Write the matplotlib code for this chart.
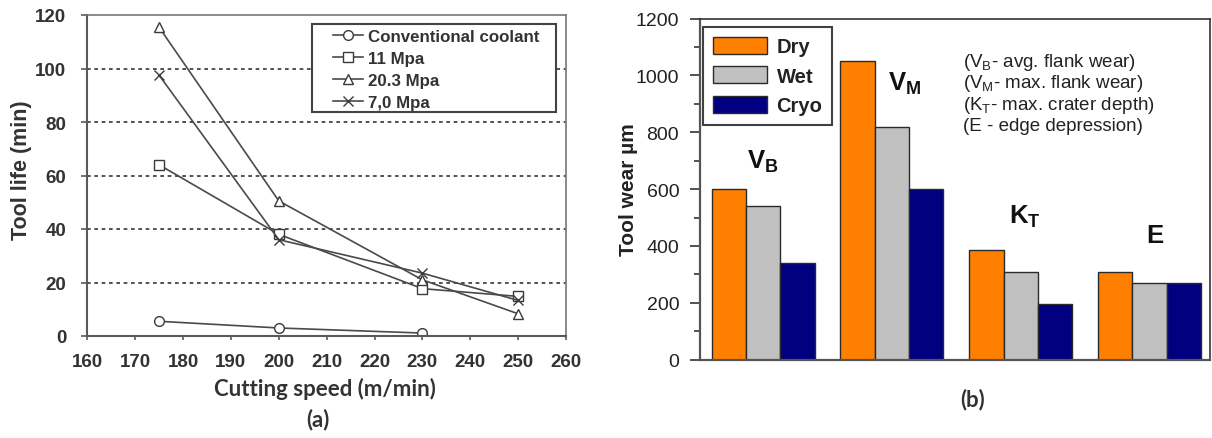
import matplotlib
matplotlib.use("Agg")
import matplotlib.pyplot as plt
from matplotlib.patches import Rectangle
import numpy as np

# ---------------- data ----------------
speeds = [175, 200, 230, 250]
conventional = [5.5, 3.0, 1.1]          # at 175, 200, 230
mpa_11 = [64, 38, 17.7, 14.8]
mpa_20_3 = [115.4, 50.5, 21, 8.3]
mpa_7_0 = [97.5, 36, 23.5, 13.3]

wear_groups = ["V_B", "V_M", "K_T", "E"]
dry = [600, 1050, 385, 310]
wet = [540, 820, 310, 270]
cryo = [340, 600, 195, 270]

# ---------------- style ----------------
plt.rcParams['font.family'] = ['Liberation Sans', 'DejaVu Sans']
plt.rcParams['mathtext.fontset'] = 'custom'
plt.rcParams['mathtext.rm'] = 'Liberation Sans'
plt.rcParams['mathtext.bf'] = 'Liberation Sans:bold'
plt.rcParams['mathtext.it'] = 'Liberation Sans:italic'

W, H = 1212, 439
fig = plt.figure(figsize=(W / 100, H / 100), dpi=100)

def fx(px):
    return px / W

def fy(py):
    return 1 - py / H

# ================= left chart =================
axL = fig.add_axes([fx(87.3), fy(337), fx(566) - fx(87.3), fy(16) - fy(337)])
line_c = '#4a4a4a'
mk = dict(markerfacecolor='white', markeredgecolor='#3a3a3a', markeredgewidth=1.0)
l1, = axL.plot(speeds[:3], conventional, color=line_c, lw=1.2, marker='o', markersize=7, label='Conventional coolant', **mk)
l2, = axL.plot(speeds, mpa_11, color=line_c, lw=1.2, marker='s', markersize=7.5, label='11 Mpa', **mk)
l3, = axL.plot(speeds, mpa_20_3, color=line_c, lw=1.2, marker='^', markersize=7, label='20.3 Mpa', **mk)
l4, = axL.plot(speeds, mpa_7_0, color=line_c, lw=1.2, marker='x', markersize=7.5, label='7,0 Mpa', **mk)

axL.set_xlim(160, 260)
axL.set_ylim(0, 120)
axL.set_xticks(np.arange(160, 261, 10))
axL.set_yticks(np.arange(0, 121, 20))
for y in range(20, 101, 20):
    axL.axhline(y, color='#333333', lw=1.2, ls=(0, (2.2, 2.2)), zorder=0)
for s in ['left', 'bottom']:
    axL.spines[s].set_color('#5a5a5a')
    axL.spines[s].set_linewidth(1.5)
for s in ['top', 'right']:
    axL.spines[s].set_color('#777777')
    axL.spines[s].set_linewidth(1.2)
axL.tick_params(axis='x', direction='out', length=3, width=1.2, color='#5a5a5a', pad=9,
                labelsize=13.5, labelcolor='#333333')
axL.tick_params(axis='y', direction='out', length=4, width=1.2, color='#5a5a5a', pad=11,
                labelsize=13.5, labelcolor='#333333')
for lab in axL.get_xticklabels() + axL.get_yticklabels():
    lab.set_fontweight('bold')

fig.text(fx(22), fy(170), 'Tool life (min)', rotation=90, ha='center', va='center',
         fontsize=15.5, fontweight='bold', color='#333333')
fig.text(fx(325), fy(389), 'Cutting speed (m/min)', ha='center', va='center',
         fontsize=16, fontweight='bold', color='#333333', family=['Lato', 'DejaVu Sans'])
fig.text(fx(318), fy(420), '(a)', ha='center', va='center',
         fontsize=16, fontweight='bold', color='#333333', family=['Lato', 'DejaVu Sans'])

box = Rectangle((fx(312), fy(113)), fx(556) - fx(312), fy(25) - fy(113),
                transform=fig.transFigure, facecolor='white',
                edgecolor='#444444', lw=1.5, zorder=4, clip_on=False)
axL.add_patch(box)
legL = axL.legend(handles=[l1, l2, l3, l4], loc='upper left',
                  bbox_to_anchor=(fx(330), fy(26.5)), bbox_transform=fig.transFigure,
                  frameon=False, borderpad=0.2, borderaxespad=0,
                  handlelength=1.75, handletextpad=0.3, labelspacing=0.42,
                  prop={'weight': 'bold', 'size': 12.2})
legL.set_zorder(5)
for t in legL.get_texts():
    t.set_color('#333333')

# ================= right chart =================
axR = fig.add_axes([fx(700), fy(360.7), fx(1210) - fx(700), fy(19.5) - fy(360.7)])
x = np.arange(len(wear_groups))
w = 0.2667
ec = '#2a2a2a'
bD = axR.bar(x - w, dry, w, color='#FF8000', edgecolor=ec, lw=1.0, label='Dry')
bW = axR.bar(x, wet, w, color='#C0C0C0', edgecolor=ec, lw=1.0, label='Wet')
bC = axR.bar(x + w, cryo, w, color='#000080', edgecolor=ec, lw=1.0, label='Cryo')
axR.set_xlim(-0.49, 3.47)
axR.set_ylim(0, 1200)
axR.set_yticks(np.arange(0, 1201, 200))
axR.set_yticks(np.arange(100, 1200, 200), minor=True)
axR.set_xticks([])
axR.tick_params(axis='y', which='major', direction='out', length=7, width=1.3,
                color='#444444', pad=8, labelsize=14, labelcolor='#222222')
axR.tick_params(axis='y', which='minor', direction='out', length=4, width=1.3, color='#444444')
for s in ['left', 'bottom']:
    axR.spines[s].set_color('#555555')
    axR.spines[s].set_linewidth(1.6)
for s in ['top', 'right']:
    axR.spines[s].set_color('#333333')
    axR.spines[s].set_linewidth(1.2)

fig.text(fx(629), fy(190), 'Tool wear µm', rotation=90, ha='center', va='center',
         fontsize=15, fontweight='bold', color='#222222')
fig.text(fx(973), fy(400), '(b)', ha='center', va='center',
         fontsize=16, fontweight='bold', color='#333333', family=['Lato', 'DejaVu Sans'])

labels_pos = [(0.0, 700), (1.10, 975), (2.03, 505), (3.04, 440)]
label_txt = [r'$\mathbf{V_B}$', r'$\mathbf{V_M}$', r'$\mathbf{K_T}$', r'$\mathbf{E}$']
for (lx, ly), t in zip(labels_pos, label_txt):
    axR.text(lx, ly, t, ha='center', va='center', fontsize=18.5, color='#111111')

notes = [r'(V$_{\mathrm{B}}$- avg. flank wear)', r'(V$_{\mathrm{M}}$- max. flank wear)',
         r'(K$_{\mathrm{T}}$- max. crater depth)', '(E - edge depression)']
note_y = [1050, 976, 899, 822]
for t, ny in zip(notes, note_y):
    axR.text(1.553, ny, t, ha='left', va='center', fontsize=13.5, color='#222222')

legR = axR.legend(handles=[bD, bW, bC], loc='upper left',
                  bbox_to_anchor=(fx(703), fy(28)), bbox_transform=fig.transFigure,
                  borderaxespad=0, fancybox=False, edgecolor='#111111',
                  handlelength=2.7, handleheight=0.9, handletextpad=0.45,
                  labelspacing=0.5, borderpad=0.5,
                  prop={'weight': 'bold', 'size': 14.5})
legR.get_frame().set_linewidth(1.5)
for t in legR.get_texts():
    t.set_color('#222222')

fig.savefig('out.png', dpi=100)
